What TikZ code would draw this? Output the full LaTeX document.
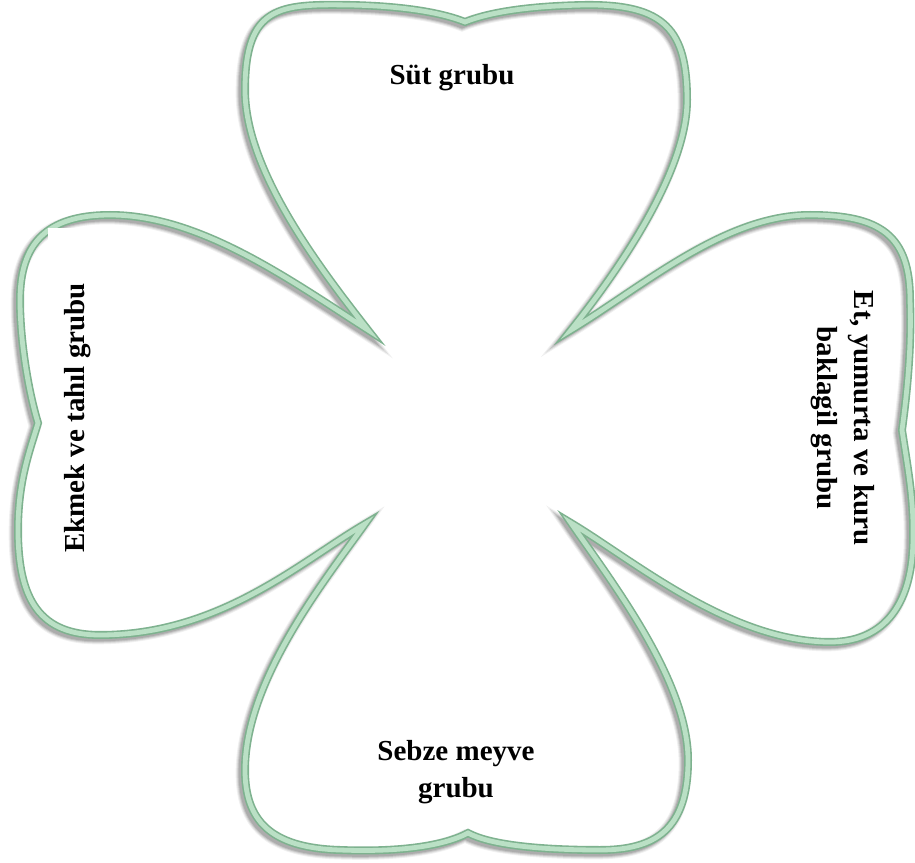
\documentclass[tikz,border=0pt]{standalone}
\usepackage{fontspec}
\setmainfont{Liberation Serif}
\definecolor{leafedge}{RGB}{126,178,143}
\definecolor{leaffill}{RGB}{186,224,197}
\tikzset{
  % closed outline of the four-leaf clover (pixel-like units, y downwards)
  clover/.style={insert path={
    (368,330) .. controls (318,266) and (245,170) .. (245,90)
    .. controls (245,5) and (280,4) .. (350,5)
    .. controls (400,6) and (440,12) .. (465,22)
    .. controls (490,12) and (530,6) .. (585,5)
    .. controls (665,4) and (687,30) .. (687,100)
    .. controls (687,170) and (622,266) .. (571,330)
    .. controls (645,285) and (725,215) .. (810,215)
    .. controls (880,215) and (910,235) .. (910,300)
    .. controls (912,350) and (906,400) .. (902,430)
    .. controls (908,470) and (914,500) .. (913,540)
    .. controls (912,610) and (880,642) .. (830,642)
    .. controls (730,642) and (633,560) .. (571,523)
    .. controls (610,580) and (688,680) .. (688,760)
    .. controls (688,830) and (655,850) .. (600,850)
    .. controls (540,850) and (490,845) .. (468,833)
    .. controls (440,848) and (390,852) .. (340,850)
    .. controls (270,848) and (245,820) .. (245,770)
    .. controls (245,680) and (325,580) .. (365,524)
    .. controls (300,562) and (220,635) .. (100,635)
    .. controls (40,635) and (18,600) .. (18,530)
    .. controls (18,480) and (30,450) .. (38,423)
    .. controls (28,390) and (20,340) .. (20,300)
    .. controls (20,245) and (45,215) .. (110,215)
    .. controls (200,215) and (290,280) .. cycle}},
  leafline/.style={line join=miter, miter limit=20},
  lbl/.style={inner sep=0pt, align=center,
    font=\fontsize{21.75pt}{27.75pt}\selectfont\bfseries}
}
\begin{document}
\begin{tikzpicture}[x=0.75pt, y=-0.75pt]
  \useasboundingbox[fill=white] (0,0) rectangle (915,863);
  % soft drop shadow
  \foreach \w/\o in {9.5pt/0.06, 8pt/0.08, 6.5pt/0.11, 5pt/0.12} {
    \draw[leafline, shift={(-3,3)}, draw=black, draw opacity=\o, line width=\w, clover];
  }
  % green double-toned outline
  \draw[leafline, draw=leafedge, line width=6pt, clover];
  \draw[leafline, draw=leaffill, line width=3.6pt, clover];
  % white patch over the corner of the left leaf
  \fill[white] (48,228) rectangle (130,258);
  % labels
  \node[lbl, anchor=base] (sut) at (452,85) {Süt grubu};
  \node[lbl, rotate=90, anchor=base] (ekmek) at (84,418) {Ekmek ve tahıl grubu};
  \node[lbl, rotate=-90] (et) at (843,418) {Et, yumurta ve kuru\\baklagil grubu};
  \node[lbl] (sebze) at (456,772) {Sebze meyve\\grubu};
\end{tikzpicture}
\end{document}
